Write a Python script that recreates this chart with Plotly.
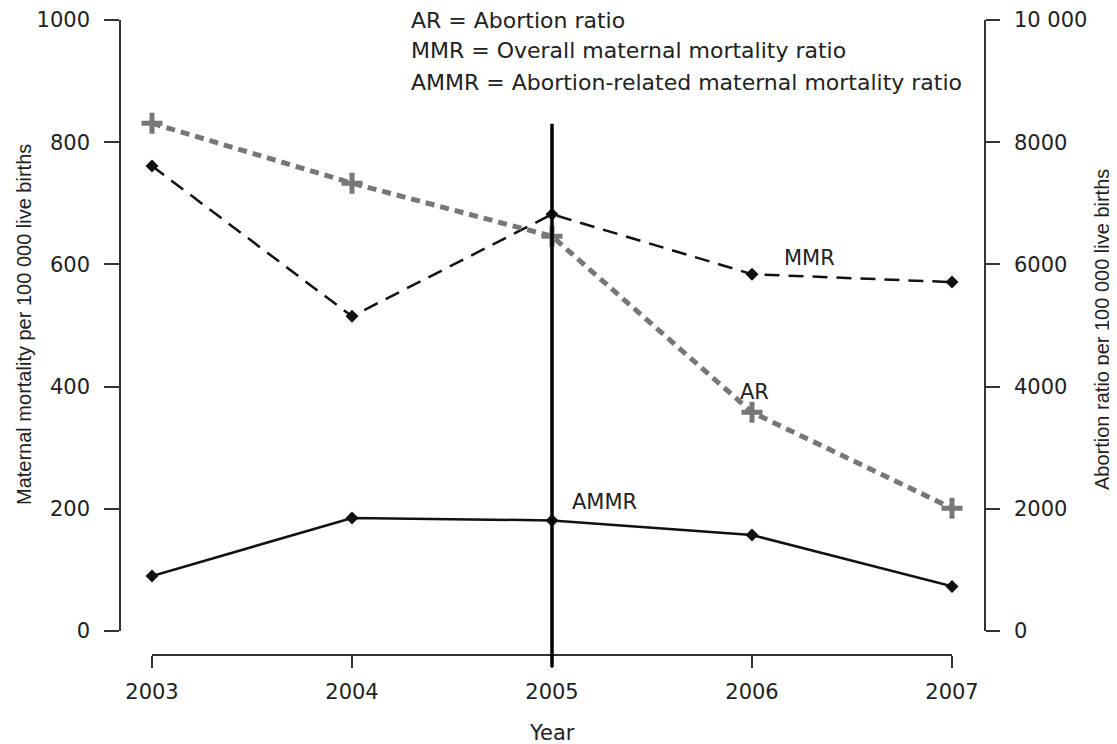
import plotly.graph_objects as go

years = [2003, 2004, 2005, 2006, 2007]
ammr = [90, 185, 181, 157, 73]
mmr = [761, 515, 682, 584, 571]
ar = [8310, 7330, 6460, 3580, 2010]

left_ticks = [0, 200, 400, 600, 800, 1000]
right_ticks = [0, 2000, 4000, 6000, 8000, 10000]
right_tick_labels = ["0", "2000", "4000", "6000", "8000", "10 000"]

legend_lines = [
    "AR = Abortion ratio",
    "MMR = Overall maternal mortality ratio",
    "AMMR = Abortion-related maternal mortality ratio",
]
policy_year = 2005
policy_top = 830

W, H = 1117, 744
OFF = 8  # page body margin
# target pixel geometry (in the photographed page)
PL, PR, PT, PB = 120, 985, 20, 655
ml, mr, mt, mb = PL - OFF, W - (PR - OFF), PT - OFF, H - (PB - OFF)
pw, ph = PR - PL, PB - PT
xdom = [(152 - PL) / pw, (952 - PL) / pw]
ydom = [(PB - 631) / ph, 1.0]


def px(x):
    return (x - PL) / pw


def py(y):
    return (PB - y) / ph


FONT = "DejaVu Sans, Verdana, sans-serif"
VFONT = "Liberation Sans, Arial, Helvetica, sans-serif"
AXC = "#333333"
TXT = "#222222"

fig = go.Figure()
fig.add_trace(go.Scatter(
    x=years, y=ar, yaxis="y2", mode="lines+markers",
    line=dict(color="#777777", width=5, dash="9px,6px"),
    marker=dict(symbol="cross-thin", size=15, line=dict(color="#777777", width=5)),
    cliponaxis=False, showlegend=False))
fig.add_trace(go.Scatter(
    x=years, y=mmr, mode="lines+markers",
    line=dict(color="#111111", width=2.5, dash="15px,9px"),
    marker=dict(symbol="diamond", size=10, color="#111111"),
    cliponaxis=False, showlegend=False))
fig.add_trace(go.Scatter(
    x=years, y=ammr, mode="lines+markers",
    line=dict(color="#111111", width=2.5),
    marker=dict(symbol="diamond", size=10, color="#111111"),
    cliponaxis=False, showlegend=False))

x0, x1 = years[0], years[-1]
fx = xdom[0] + (policy_year - x0) / (x1 - x0) * (xdom[1] - xdom[0])
fy = ydom[0] + policy_top / 1000 * (ydom[1] - ydom[0])
fig.add_shape(type="line", xref="paper", yref="paper",
              x0=fx, x1=fx, y0=-12 / ph, y1=fy,
              line=dict(color="#000000", width=3.5))

# line labels
lab_font = dict(size=21, color=TXT, family=FONT)
fig.add_annotation(x=2006.15, y=584, text="MMR", showarrow=False, xanchor="left",
                   yanchor="bottom", yshift=2, font=lab_font)
fig.add_annotation(x=2005.93, y=3580, yref="y2", text="AR", showarrow=False, xanchor="left",
                   yanchor="bottom", yshift=6, font=lab_font)
fig.add_annotation(x=2005.09, y=181, text="AMMR", showarrow=False, xanchor="left",
                   yanchor="bottom", yshift=4, font=lab_font)

# legend text
for i, t in enumerate(legend_lines):
    fig.add_annotation(x=px(409), y=py(20 + i * 31), xref="paper", yref="paper",
                       text=t, showarrow=False, xanchor="left", yanchor="middle",
                       font=dict(size=22, color=TXT, family=FONT))

# axis titles
fig.add_annotation(x=px(24), y=py(325), xref="paper", yref="paper",
                   xanchor="center", yanchor="middle",
                   text="Maternal mortality per 100 000 live births", textangle=-90,
                   showarrow=False, font=dict(size=20, color=TXT, family=VFONT))
fig.add_annotation(x=px(1102), y=py(330), xref="paper", yref="paper",
                   xanchor="center", yanchor="middle",
                   text="Abortion ratio per 100 000 live births", textangle=-90,
                   showarrow=False, font=dict(size=20, color=TXT, family=VFONT))
fig.add_annotation(x=fx, y=py(733), xref="paper", yref="paper", text="Year",
                   xanchor="center", yanchor="middle",
                   showarrow=False, font=dict(size=21, color=TXT, family=FONT))

axis_common = dict(ticks="outside", tickwidth=1.5, tickcolor=AXC,
                   showline=True, linecolor=AXC, linewidth=1.5, showgrid=False,
                   zeroline=False, automargin=False,
                   tickfont=dict(size=21, color=TXT, family=FONT))

fig.update_layout(
    width=W, height=H, margin=dict(l=ml, r=mr, t=mt, b=mb, autoexpand=False),
    paper_bgcolor="white", plot_bgcolor="white",
    font=dict(family=FONT, size=21, color=TXT),
    xaxis=dict(domain=xdom, range=[x0, x1], anchor="free", position=0,
               tickvals=years, ticklen=12, ticklabelstandoff=6, **axis_common),
    yaxis=dict(domain=ydom, range=[0, 1000], anchor="free", position=0,
               tickvals=left_ticks, ticklen=15, ticklabelstandoff=10, **axis_common),
    yaxis2=dict(domain=ydom, range=[0, 10000], overlaying="y", side="right", anchor="free",
                position=1, tickvals=right_ticks, ticktext=right_tick_labels,
                ticklen=14, ticklabelstandoff=10, **axis_common),
)

fig.write_html("out.html")
